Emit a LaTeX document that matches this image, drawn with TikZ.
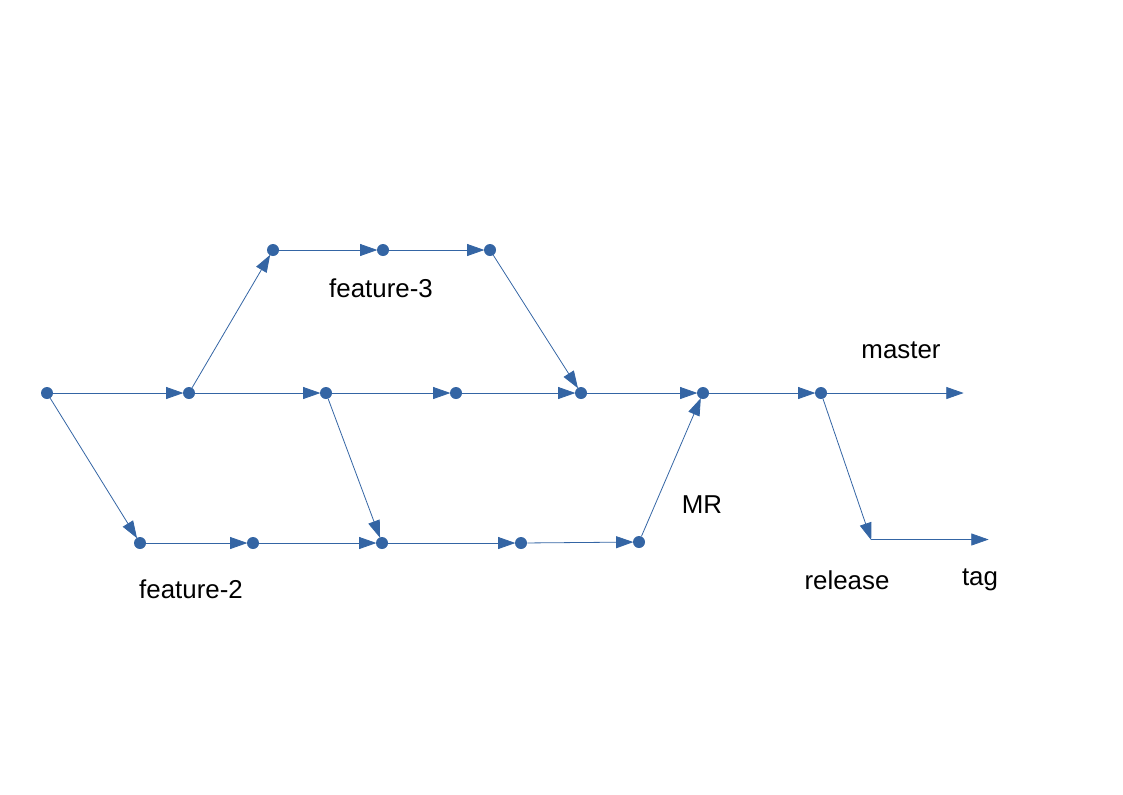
\documentclass[tikz,border=0pt]{standalone}
\usepackage{fontspec}
\setmainfont{Liberation Sans}
\usetikzlibrary{arrows.meta}

\definecolor{gitblue}{HTML}{3465A4}

\begin{document}
\begin{tikzpicture}[x=0.75pt,y=-0.75pt,
    commit/.style={circle, fill=gitblue, inner sep=0pt, minimum size=9pt},
    flow/.style={draw=gitblue, line width=0.6pt, -{Triangle[length=13pt,width=9pt]}, shorten >=-0.5pt},
    lbl/.style={font=\fontsize{19.4}{23}\selectfont, text=black}]
    \useasboundingbox (0,0) rectangle (1123,794);

    % master line
    \node[commit] (m0) at (47,393) {};
    \node[commit] (m1) at (189,393) {};
    \node[commit] (m2) at (326,393) {};
    \node[commit] (m3) at (456,393) {};
    \node[commit] (m4) at (581,393) {};
    \node[commit] (m5) at (703,393) {};
    \node[commit] (m6) at (821,393) {};
    \coordinate (mend) at (963,393);

    % feature-3
    \node[commit] (t1) at (273,250) {};
    \node[commit] (t2) at (383,250) {};
    \node[commit] (t3) at (490,250) {};

    % feature-2
    \node[commit] (b1) at (140,543) {};
    \node[commit] (b2) at (253,543) {};
    \node[commit] (b3) at (382,543) {};
    \node[commit] (b4) at (521,543) {};
    \node[commit] (b5) at (639,542) {};

    % release
    \coordinate (rel) at (871,539.5);
    \coordinate (tagend) at (988,539.5);

    \draw[flow] (m0) -- (m1);
    \draw[flow] (m1) -- (m2);
    \draw[flow] (m2) -- (m3);
    \draw[flow] (m3) -- (m4);
    \draw[flow] (m4) -- (m5);
    \draw[flow] (m5) -- (m6);
    \draw[flow] (m6) -- (mend);

    \draw[flow] (m1) -- (t1);
    \draw[flow] (t1) -- (t2);
    \draw[flow] (t2) -- (t3);
    \draw[flow] (t3) -- (m4);

    \draw[flow] (m0) -- (b1);
    \draw[flow] (b1) -- (b2);
    \draw[flow] (b2) -- (b3);
    \draw[flow] (m2) -- (b3);
    \draw[flow] (b3) -- (b4);
    \draw[flow] (b4) -- (b5);
    \draw[flow] (b5) -- (m5);

    \draw[flow] (m6) -- (rel);
    \draw[flow] (rel) -- (tagend);

    % labels
    \node[lbl] (lf3) at (381,288) {feature-3};
    \node[lbl] (lmaster) at (901,350) {master};
    \node[lbl] (lmr) at (702,505) {MR};
    \node[lbl] (lf2) at (191,589) {feature-2};
    \node[lbl] (lrel) at (847,580) {release};
    \node[lbl] (ltag) at (980,580) {tag};
\end{tikzpicture}
\end{document}
